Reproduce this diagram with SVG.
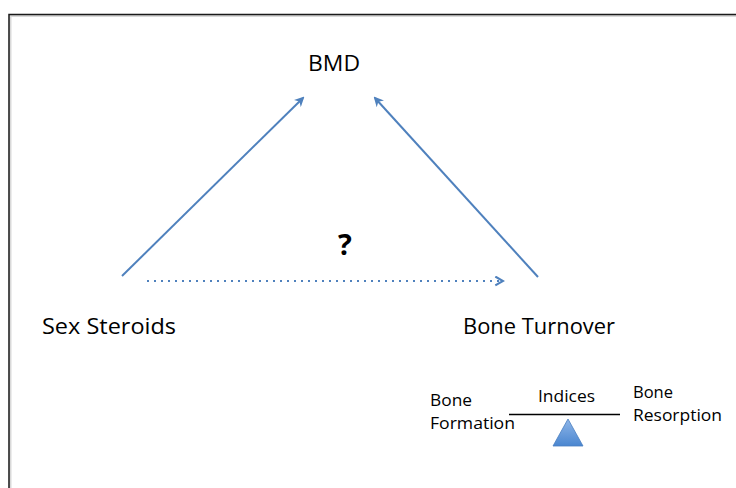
<svg xmlns="http://www.w3.org/2000/svg" width="736" height="488" viewBox="0 0 736 488">
  <defs>
    <style>
      .lbl { font-family: "Open Sans", Lato, "Liberation Sans", sans-serif; fill: #000; }
      .big { font-size: 22px; }
      .small { font-size: 16px; }
      .conn { stroke: #4f81bd; stroke-width: 2; fill: none; }
      .dots { stroke: #4f81bd; stroke-width: 2.2; fill: none; stroke-dasharray: 2 5; }
    </style>
    <marker id="head" viewBox="0 0 10 10" refX="8" refY="5" markerWidth="5" markerHeight="5" orient="auto" markerUnits="strokeWidth">
      <path d="M0,0 L10,5 L0,10 L3,5 z" fill="#4f81bd"/>
    </marker>
    <marker id="open" viewBox="0 0 10 10" refX="8" refY="5" markerWidth="5" markerHeight="5" orient="auto" markerUnits="strokeWidth">
      <path d="M1,1 L8,5 L1,9" fill="none" stroke="#4f81bd" stroke-width="2"/>
    </marker>
    <linearGradient id="fulcrum" x1="0" y1="0" x2="0" y2="1">
      <stop offset="0" stop-color="#8fb6e8"/>
      <stop offset="1" stop-color="#4a86d0"/>
    </linearGradient>
  </defs>

  <rect width="736" height="488" fill="#fff"/>

  <!-- frame, running past the right and bottom edges -->
  <path d="M9,500 V14.5 H750" fill="none" stroke="#d9d9d9" stroke-width="3" transform="translate(1,1)"/>
  <path d="M9,500 V14.5 H750" fill="none" stroke="#1a1a1a" stroke-width="1.5"/>

  <g id="connectors">
    <line class="conn" x1="122" y1="276" x2="303" y2="98" marker-end="url(#head)"/>
    <line class="conn" x1="538" y1="277" x2="375" y2="98" marker-end="url(#head)"/>
    <line class="dots" x1="147" y1="281" x2="503" y2="281" marker-end="url(#open)"/>
  </g>

  <g id="bmd">
    <text class="lbl big" x="334" y="71" text-anchor="middle" textLength="52" lengthAdjust="spacingAndGlyphs">BMD</text>
  </g>

  <g id="sex-steroids">
    <text class="lbl big" x="42" y="334" textLength="134" lengthAdjust="spacingAndGlyphs">Sex Steroids</text>
  </g>

  <g id="bone-turnover">
    <text class="lbl big" x="463" y="334" textLength="152" lengthAdjust="spacingAndGlyphs">Bone Turnover</text>
  </g>

  <g id="question">
    <text class="lbl" x="345" y="255" text-anchor="middle" font-size="29" font-weight="bold">?</text>
  </g>

  <g id="indices">
    <line x1="509" y1="414.5" x2="620" y2="414.5" stroke="#000" stroke-width="1.5"/>
    <polygon points="568,419 553,446 583,446" fill="url(#fulcrum)" stroke="#4a7fc0" stroke-width="0.8"/>
    <text class="lbl small" x="538" y="402" textLength="57" lengthAdjust="spacingAndGlyphs">Indices</text>
    <text class="lbl small" x="430" y="406" textLength="42" lengthAdjust="spacingAndGlyphs">Bone</text>
    <text class="lbl small" x="430" y="429" textLength="85" lengthAdjust="spacingAndGlyphs">Formation</text>
    <text class="lbl small" x="633" y="398" textLength="40" lengthAdjust="spacingAndGlyphs">Bone</text>
    <text class="lbl small" x="633" y="421" textLength="89" lengthAdjust="spacingAndGlyphs">Resorption</text>
  </g>
</svg>
